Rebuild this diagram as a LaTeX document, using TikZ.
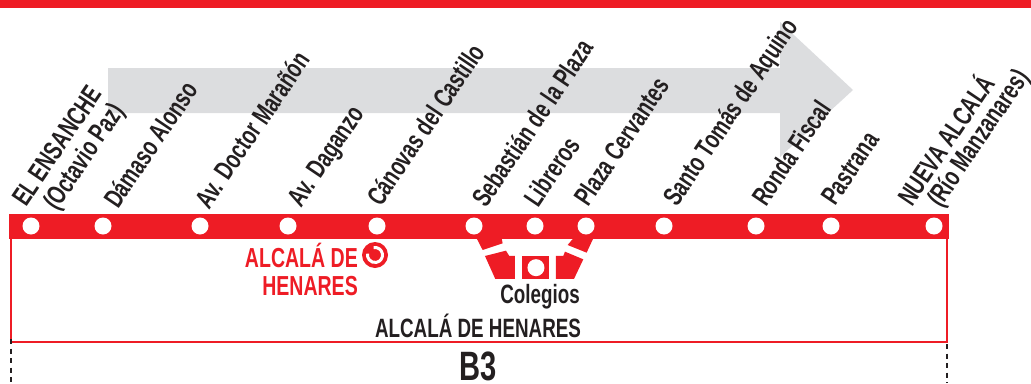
\documentclass[tikz,border=0pt]{standalone}
\usepackage{fontspec}
\setmainfont{Liberation Sans}
\newfontfamily\narrowbold[FakeStretch=0.71]{Liberation Sans Bold}
\definecolor{busred}{HTML}{EE1C25}
\definecolor{arrowgrey}{HTML}{DCDDDF}
\definecolor{inkblack}{HTML}{231F20}
\tikzset{
  stop/.style={circle,fill=white,minimum size=17pt,inner sep=0pt},
  stoplabel/.style={rotate=56,anchor=base west,inner sep=0pt,font=\narrowbold\fontsize{27}{26}\selectfont,text=inkblack,align=left},
  plain/.style={inner sep=0pt,font=\narrowbold\fontsize{26.5}{27}\selectfont,text=inkblack},
  redtext/.style={inner sep=0pt,font=\narrowbold\fontsize{27.5}{28}\selectfont,text=busred,align=right},
}
\begin{document}
\begin{tikzpicture}[x=1pt,y=-1pt]
\useasboundingbox (0,0) rectangle (1031,383);
\fill[busred] (0,0) rectangle (1031,8);
\fill[arrowgrey] (108,68) -- (780,68) -- (780,22) -- (853,90) -- (780,157) -- (780,113) -- (108,113) -- cycle;
\draw[busred,line width=2.5pt] (11,230) rectangle (947,342);
\fill[busred] (9,214) rectangle (949,239);
\draw[inkblack,line width=2pt,dash pattern=on 5pt off 4.5pt] (11,339) -- (11,383);
\draw[inkblack,line width=2pt,dash pattern=on 5pt off 4.5pt] (947,344) -- (947,383);
\foreach \n/\x in {a/31,b/103,c/200,d/288,e/377,f/474,g/535,h/586,i/664,j/756,k/831,l/934}
  \node[stop] (\n) at (\x,226) {};
\begin{scope}[shift={(220,200)},x=0.3333pt,y=-0.3333pt]
\fill[busred] (770,115) -- (845,115) -- (848,130) -- (788,150) -- cycle;
\fill[busred] (795,168) -- (858,152) -- (868,168) -- (885,168) -- (885,237) -- (826,237) -- cycle;
\fill[busred] (906,168) rectangle (988,237);
\fill[busred] (1008,168) -- (1030,168) -- (1035,155) -- (1090,178) -- (1062,237) -- (1008,237) -- cycle;
\fill[busred] (1043,135) -- (1060,115) -- (1120,115) -- (1100,158) -- cycle;
\node[stop] (col) at (948,203) {};
\end{scope}
\node[stoplabel] (la1) at (26,208) {EL ENSANCHE};
\node[stoplabel] (la2) at (57,212) {(Octavio Paz)};
\node[stoplabel] (lb) at (118,210) {Dámaso Alonso};
\node[stoplabel] (lc) at (209,211) {Av. Doctor Marañón};
\node[stoplabel] (ld) at (301,209) {Av. Daganzo};
\node[stoplabel] (le) at (381,208) {Cánovas del Castillo};
\node[stoplabel] (lf) at (486,209) {Sebastián de la Plaza};
\node[stoplabel] (lg) at (538,209) {Libreros};
\node[stoplabel] (lh) at (588,208) {Plaza Cervantes};
\node[stoplabel] (li) at (677,208) {Santo Tomás de Aquino};
\node[stoplabel] (lj) at (766,208) {Ronda Fiscal};
\node[stoplabel] (lk) at (835,207) {Pastrana};
\node[stoplabel] (ll1) at (912,208) {NUEVA ALCALÁ};
\node[stoplabel] (ll2) at (941,209) {(Río Manzanares)};
\node[redtext,anchor=east] (alc) at (358,269) {ALCALÁ DE\\HENARES};
\node[plain] (colegios) at (540,297) {Colegios};
\node[plain] (alch) at (478,326) {ALCALÁ DE HENARES};
\node[inner sep=0pt,font=\narrowbold\fontsize{41}{41}\selectfont,text=inkblack] (b3) at (478,366) {B3};
\node[circle,fill=busred,minimum size=26pt,inner sep=0pt] (icon) at (375,255) {};
\begin{scope}[shift={(375,255)},x=1pt,y=1pt]
\draw[white,line width=3pt] (100:7.5pt) arc[start angle=100,end angle=-190,radius=7.5pt];
\end{scope}
\end{tikzpicture}
\end{document}
